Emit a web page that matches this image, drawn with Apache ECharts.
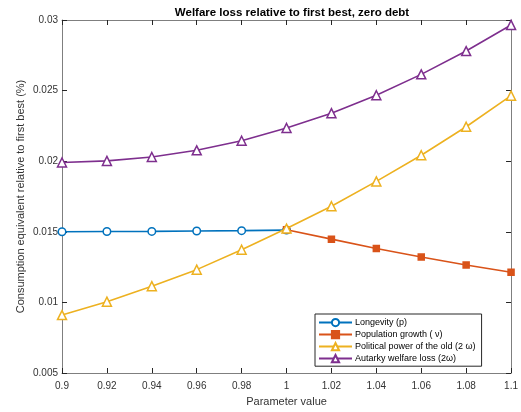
<!DOCTYPE html>
<html><head><meta charset="utf-8">
<script src="https://cdn.jsdelivr.net/npm/echarts@6/dist/echarts.min.js"></script>
<style>html,body{margin:0;padding:0;background:#fff}#c{width:521px;height:412px}</style>
</head><body><div id="c"></div>
<script>
const xLongevity = [0.9, 0.92, 0.94, 0.96, 0.98, 1.0];
const yLongevity = [0.01500, 0.01502, 0.01503, 0.01506, 0.01508, 0.01512];
const xPopulation = [1.0, 1.02, 1.04, 1.06, 1.08, 1.1];
const yPopulation = [0.01515, 0.01448, 0.01382, 0.01321, 0.01265, 0.01213];
const xFull = [0.9, 0.92, 0.94, 0.96, 0.98, 1.0, 1.02, 1.04, 1.06, 1.08, 1.1];
const yPolitical = [0.0091, 0.01005, 0.01115, 0.01232, 0.01373, 0.01523, 0.01681, 0.01857, 0.02042, 0.02244, 0.02464];
const yAutarky = [0.01991, 0.02002, 0.0203, 0.02077, 0.02145, 0.02235, 0.0234, 0.02467, 0.02615, 0.0278, 0.02965];
const seriesNames = ['Longevity (p)', 'Population growth ( \u03BD)', 'Political power of the old (2 \u03C9)', 'Autarky welfare loss (2\u03C9)'];
const colors = ['#0072BD', '#D95319', '#EDB120', '#7E2F8E'];
const xTicks = {min: 0.9, max: 1.1, interval: 0.02};
const yTicks = {min: 0.005, max: 0.03, interval: 0.005};

const pair = (xs, ys) => xs.map((x, i) => [x, ys[i]]);
const fmt = v => String(+(+v).toFixed(4));
const axisLineStyle = {color: '#7f7f7f', width: 1};
const font = 'Helvetica, Arial, "Liberation Sans", sans-serif';

const chart = echarts.init(document.getElementById('c'), null, {renderer: 'canvas'});
const mk = (i, data, symbol, size, fill) => ({
  name: seriesNames[i], type: 'line', data, symbol, symbolSize: size,
  xAxisIndex: 0, yAxisIndex: 0,
  lineStyle: {color: colors[i], width: 1.6},
  itemStyle: {color: fill ? colors[i] : '#ffffff', borderColor: colors[i], borderWidth: 1.5},
  emphasis: {disabled: true}, animation: false, z: 3 + i
});
chart.setOption({
  animation: false,
  textStyle: {fontFamily: font},
  title: {text: 'Welfare loss relative to first best, zero debt', left: 287, top: 2, textAlign: 'center',
    textStyle: {fontSize: 11.5, fontWeight: 'bold', color: '#000', fontFamily: font}},
  grid: {left: 62, right: 9, top: 20, bottom: 37, containLabel: false},
  legend: {
    orient: 'vertical', left: 315, top: 314, width: 166,
    backgroundColor: '#fff', borderColor: '#262626', borderWidth: 1,
    padding: [4, 6, 3, 3], itemGap: 2.8, itemWidth: 33, itemHeight: 9,
    textStyle: {fontSize: 9, color: '#000', fontFamily: font, padding: [0, 0, 0, -2]},
    data: seriesNames
  },
  xAxis: [
    {type: 'value', position: 'bottom', min: xTicks.min, max: xTicks.max, interval: xTicks.interval,
      name: 'Parameter value', nameLocation: 'middle', nameGap: 23, nameMoveOverlap: false,
      nameTextStyle: {fontSize: 11, color: '#333', fontFamily: font},
      axisLine: {lineStyle: axisLineStyle}, axisTick: {inside: true, length: 5, lineStyle: {color: '#262626'}},
      axisLabel: {formatter: fmt, fontSize: 10, color: '#333', margin: 8, fontFamily: font},
      splitLine: {show: false}},
    {type: 'value', position: 'top', min: xTicks.min, max: xTicks.max, interval: xTicks.interval,
      axisLine: {show: true, lineStyle: axisLineStyle}, axisTick: {inside: true, length: 5, lineStyle: {color: '#262626'}},
      axisLabel: {show: false}, splitLine: {show: false}}
  ],
  yAxis: [
    {type: 'value', position: 'left', min: yTicks.min, max: yTicks.max, interval: yTicks.interval,
      name: 'Consumption equivalent relative to first best (%)', nameLocation: 'middle', nameGap: 36, nameMoveOverlap: false,
      nameTextStyle: {fontSize: 11, color: '#333', fontFamily: font},
      axisLine: {show: true, lineStyle: axisLineStyle}, axisTick: {show: true, inside: true, length: 5, lineStyle: {color: '#262626'}},
      axisLabel: {formatter: fmt, fontSize: 10, color: '#333', margin: 4, fontFamily: font},
      splitLine: {show: false}},
    {type: 'value', position: 'right', min: yTicks.min, max: yTicks.max, interval: yTicks.interval,
      axisLine: {show: true, lineStyle: axisLineStyle}, axisTick: {show: true, inside: true, length: 5, lineStyle: {color: '#262626'}},
      axisLabel: {show: false}, splitLine: {show: false}}
  ],
  series: [
    mk(0, pair(xLongevity, yLongevity), 'circle', 7.5, false),
    mk(1, pair(xPopulation, yPopulation), 'rect', 6, true),
    mk(2, pair(xFull, yPolitical), 'triangle', 9, false),
    mk(3, pair(xFull, yAutarky), 'triangle', 9, false)
  ]
});
</script></body></html>
